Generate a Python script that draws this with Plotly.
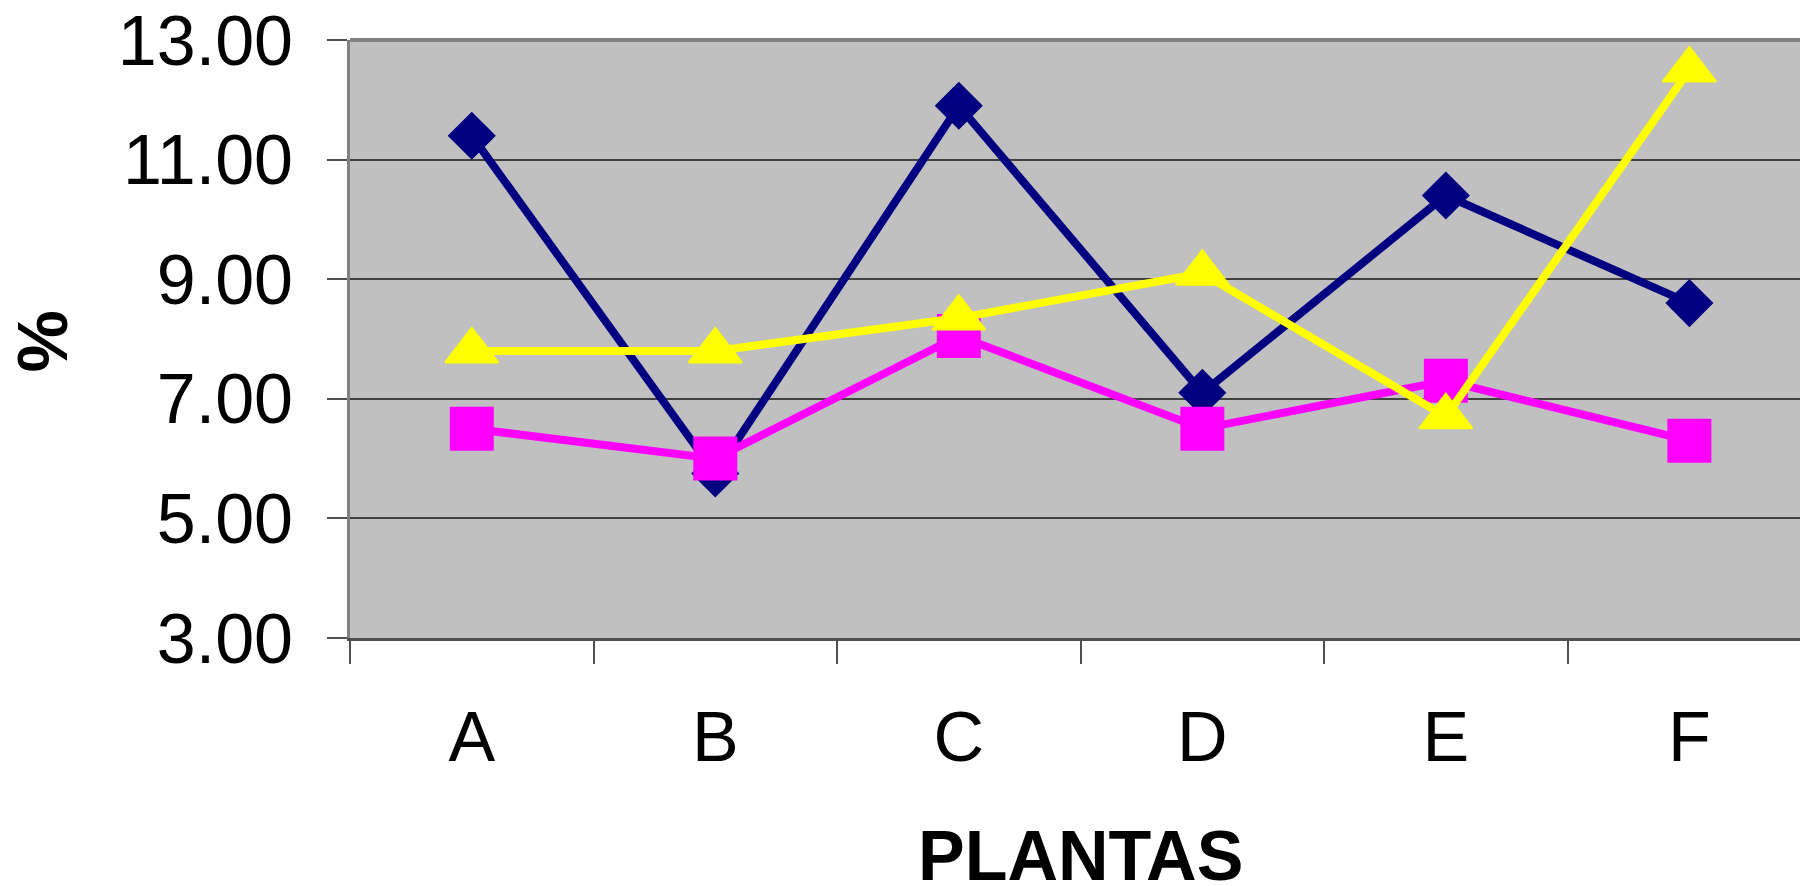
import plotly.graph_objects as go

categories = ["A", "B", "C", "D", "E", "F"]
serie_azul = [11.4, 5.75, 11.9, 7.1, 10.4, 8.6]
serie_rosa = [6.5, 6.0, 8.05, 6.5, 7.3, 6.3]
serie_amarilla = [7.8, 7.8, 8.35, 9.1, 6.7, 12.5]
y_ticks = [3, 5, 7, 9, 11, 13]

FONT = "Liberation Sans, Arial, sans-serif"

fig = go.Figure()
fig.add_trace(go.Scatter(
    x=categories, y=serie_azul, mode="lines+markers",
    line=dict(color="#000080", width=8),
    marker=dict(symbol="diamond", size=37, color="#000080"),
))
fig.add_trace(go.Scatter(
    x=categories, y=serie_rosa, mode="lines+markers",
    line=dict(color="#FF00FF", width=8),
    marker=dict(symbol="square", size=44, color="#FF00FF"),
))
fig.add_trace(go.Scatter(
    x=categories, y=serie_amarilla, mode="lines+markers",
    line=dict(color="#FFFF00", width=8),
    marker=dict(symbol="triangle-up", size=46, color="#FFFF00",
                line=dict(color="#FFFF00", width=2)),
))

fig.update_layout(
    width=1808, height=886,
    margin=dict(l=342, r=0, t=32, b=256),
    paper_bgcolor="white",
    plot_bgcolor="#C0C0C0",
    showlegend=False,
    font=dict(family=FONT, size=70, color="black"),
    xaxis=dict(
        type="category",
        range=[-0.5, 5.52],
        tickson="boundaries",
        ticks="outside", ticklen=23, tickwidth=1.5, tickcolor="#505050",
        showgrid=False,
        showline=True, linecolor="#505050", linewidth=3,
        tickfont=dict(family=FONT, size=70, color="black"),
        ticklabelstandoff=36,
        zeroline=False,
        automargin=False,
    ),
    yaxis=dict(
        range=[3, 13],
        tickvals=y_ticks,
        tickformat=".2f",
        ticks="outside", ticklen=20, tickwidth=1.5, tickcolor="#505050",
        showgrid=True, gridcolor="#404040", gridwidth=1.5,
        showline=True, linecolor="#808080", linewidth=3,
        tickfont=dict(family=FONT, size=70, color="black"),
        ticklabelstandoff=20,
        ticklabeloverflow="allow",
        zeroline=False,
        automargin=False,
    ),
    shapes=[dict(type="line", xref="paper", yref="paper", x0=0, x1=1, y0=1, y1=1,
                 line=dict(color="#808080", width=4))],
    annotations=[
        dict(text="<b>PLANTAS</b>", xref="x", yref="paper", x=2.5, y=-0.364,
             xanchor="center", yanchor="middle", showarrow=False,
             font=dict(family=FONT, size=70, color="black")),
        dict(text="<b>%</b>", xref="paper", yref="paper", x=-0.2097, y=0.495,
             xanchor="center", yanchor="middle", showarrow=False, textangle=-90,
             font=dict(family=FONT, size=70, color="black")),
    ],
)

fig.write_html("out.html")
